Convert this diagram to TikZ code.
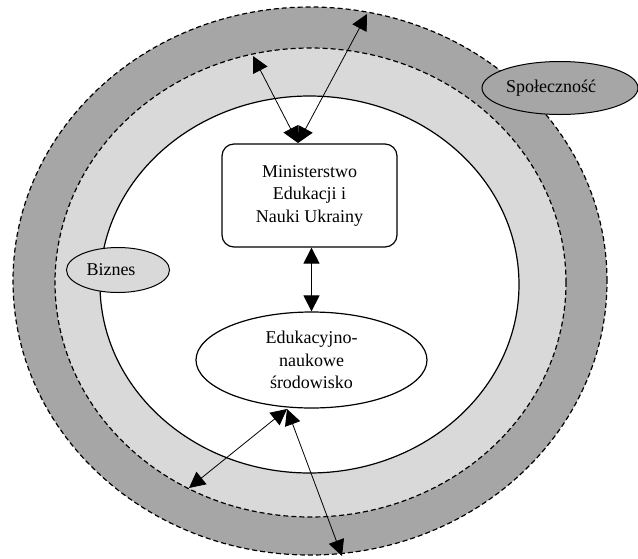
\documentclass[tikz,border=0pt]{standalone}
\usepackage{fontspec}
\setmainfont{Liberation Serif}
\usepackage{tikz}
\usetikzlibrary{arrows.meta,shapes.geometric}
\definecolor{RingDark}{RGB}{166,166,166}
\definecolor{RingLight}{RGB}{217,217,217}

\begin{document}
\begin{tikzpicture}[x=1pt,y=-1pt,
   txt/.style={font=\fontsize{18pt}{22.5pt}\selectfont,align=center,inner sep=0pt},
   ring/.style={draw,line width=1.2pt,dash pattern=on 5pt off 3pt},
   blob/.style={txt,ellipse,draw,line width=1pt},
   link/.style={line width=0.8pt,{Triangle[length=16pt,width=16pt]}-{Triangle[length=16pt,width=16pt]}}]
\useasboundingbox (0,0) rectangle (638,558);
% rings
\draw[ring,fill=RingDark] (310,281) ellipse [x radius=297pt,y radius=274pt];
\draw[ring,fill=RingLight] (310.5,282.5) ellipse [x radius=255.5pt,y radius=234.5pt];
\draw[line width=1.2pt,fill=white] (309.5,284.5) ellipse [x radius=209.5pt,y radius=188.5pt];
% outer actors
\node[blob,fill=RingLight,minimum width=103pt,minimum height=45pt](biz) at (118,270) {\hspace*{-14pt}Biznes};
\node[blob,fill=RingDark,minimum width=156pt,minimum height=53pt](spo) at (560,88) {\hspace*{-18pt}Społeczność};
% inner nodes
\node[txt,draw,line width=1.2pt,rounded corners=12pt,minimum width=175pt,minimum height=103pt](min) at (309.5,195.5) {Ministerstwo\\Edukacji i\\Nauki Ukrainy};
\node[blob,line width=1.2pt,minimum width=231pt,minimum height=96pt](env) at (311.5,360) {Edukacyjno-\\naukowe\\środowisko};
\coordinate (mintop) at (298,143);
\coordinate (envbot) at (287,409);
\coordinate (midtop) at (253,56);
\coordinate (outtop) at (367,14);
\coordinate (midbot) at (189,488);
\coordinate (outbot) at (342,556);
% connectors
\foreach \a in {midtop,outtop} {
   \draw[link] (mintop) -- (\a);
}
\foreach \a in {midbot,outbot} {
   \draw[link] (envbot) -- (\a);
}
\draw[link] (env.north |- min.south) -- (env.north);
\end{tikzpicture}
\end{document}
